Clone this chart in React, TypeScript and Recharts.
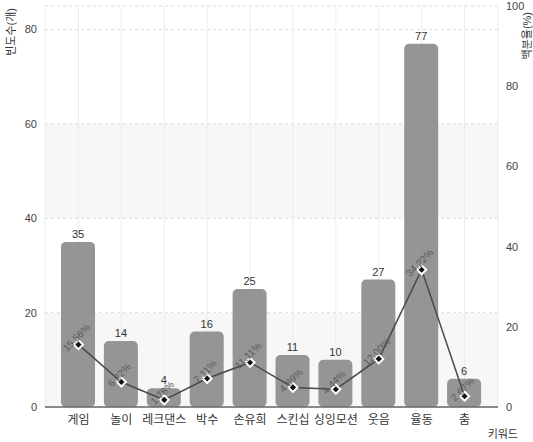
import {
  ComposedChart,
  Bar,
  Line,
  XAxis,
  YAxis,
  CartesianGrid,
  LabelList,
} from "recharts";

const keywords = ["게임", "놀이", "레크댄스", "박수", "손유희", "스킨십", "싱잉모션", "웃음", "율동", "춤"];
const counts = [35, 14, 4, 16, 25, 11, 10, 27, 77, 6];
const percents = [15.56, 6.22, 1.78, 7.11, 11.11, 4.89, 4.44, 12.0, 34.22, 2.67];

const countTicks = [0, 20, 40, 60, 80];
const percentTicks = [0, 20, 40, 60, 80, 100];

const FONT = "'Liberation Sans', 'Noto Sans CJK KR', sans-serif";

const chartData = keywords.map((name, i) => ({
  name,
  count: counts[i],
  percent: percents[i],
}));

// diamond marker for the percentage line
const Diamond = (props: any) => {
  const { cx, cy } = props;
  if (cx == null || cy == null) return null;
  const s = 4.5;
  return (
    <path
      d={`M${cx},${cy - s}L${cx + s},${cy}L${cx},${cy + s}L${cx - s},${cy}Z`}
      fill="#111"
      stroke="#fff"
      strokeWidth={2}
    />
  );
};

const PercentLabel = (props: any) => {
  const { x, y, value } = props;
  const tx = x - 2;
  const ty = y - 7;
  return (
    <text
      x={tx}
      y={ty}
      textAnchor="middle"
      dominantBaseline="central"
      transform={`rotate(-45, ${tx}, ${ty})`}
      fill="#5a5a5a"
      fontSize={10}
      fontFamily={FONT}
    >
      {`${Number(value).toFixed(2)}%`}
    </text>
  );
};

const App = () => {
  return (
    <div style={{ position: "absolute", left: 0, top: 0, fontFamily: FONT }}>
      <ComposedChart
        width={533}
        height={442}
        data={chartData}
        margin={{ top: 6, right: 5, bottom: 5, left: 5 }}
      >
        <CartesianGrid
          yAxisId="left"
          vertical={false}
          stroke="#dcdcdc"
          strokeDasharray="3 3"
          horizontalFill={["#fff", "#fff", "#f7f7f7", "#fff", "#f7f7f7"]}
        />
        <CartesianGrid yAxisId="left" horizontal={false} stroke="#ececec" />
        <XAxis
          dataKey="name"
          padding={{ left: 12, right: 12 }}
          height={30}
          tickLine={false}
          axisLine={{ stroke: "#666", strokeWidth: 1.5 }}
          interval={0}
          tick={{ fill: "#333", fontSize: 12 }}
          label={{
            value: "키워드",
            content: ({ viewBox }: any) => (
              <text
                x={viewBox.x + viewBox.width + 20}
                y={viewBox.y + 27}
                textAnchor="end"
                dominantBaseline="central"
                fill="#333"
                fontSize={11}
              >
                키워드
              </text>
            ),
          }}
        />
        <YAxis
          yAxisId="left"
          width={40}
          domain={[0, 85]}
          ticks={countTicks}
          axisLine={false}
          tickLine={false}
          tick={{ fill: "#444", fontSize: 11 }}
          label={{
            value: "빈도수(개)",
            content: ({ viewBox }: any) => (
              <text
                x={viewBox.x + 6}
                y={viewBox.y + 2}
                textAnchor="end"
                dominantBaseline="central"
                transform={`rotate(-90, ${viewBox.x + 6}, ${viewBox.y + 2})`}
                fill="#333"
                fontSize={11}
              >
                빈도수(개)
              </text>
            ),
          }}
        />
        <YAxis
          yAxisId="right"
          orientation="right"
          width={30}
          domain={[0, 100]}
          ticks={percentTicks}
          axisLine={false}
          tickLine={false}
          tick={{ fill: "#444", fontSize: 11 }}
          label={{
            value: "백분율(%)",
            content: ({ viewBox }: any) => (
              <text
                x={viewBox.x + 29}
                y={viewBox.y + 6}
                textAnchor="end"
                dominantBaseline="central"
                transform={`rotate(-90, ${viewBox.x + 29}, ${viewBox.y + 6})`}
                fill="#333"
                fontSize={11}
              >
                백분율(%)
              </text>
            ),
          }}
        />
        <Bar
          yAxisId="left"
          dataKey="count"
          barSize={34}
          radius={5}
          fill="#8a8a8a"
          fillOpacity={0.9}
          isAnimationActive={false}
        >
          <LabelList dataKey="count" position="top" offset={4} fill="#333" fontSize={11} />
        </Bar>
        <Line
          yAxisId="right"
          dataKey="percent"
          type="linear"
          stroke="#4a4a4a"
          strokeWidth={1.5}
          dot={<Diamond />}
          activeDot={false}
          isAnimationActive={false}
        >
          <LabelList dataKey="percent" content={<PercentLabel />} />
        </Line>
      </ComposedChart>
    </div>
  );
};

export default App;
